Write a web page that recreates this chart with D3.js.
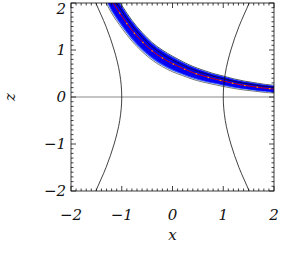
<!DOCTYPE html>
<html>
<head>
<meta charset="utf-8">
<script src="https://cdn.jsdelivr.net/npm/d3@7"></script>
<style>
body { margin: 0; background: #fff; }
</style>
</head>
<body>
<svg id="graph" width="293" height="254"></svg>
<script>
// band (trajectory) centre line
const bandX = [-1.4, -1.3, -1.2, -1.0, -0.8, -0.6, -0.4, -0.2, 0, 0.2, 0.4, 0.6, 0.8, 1.0, 1.2, 1.4, 1.6, 1.8, 2.0]
const bandZ = [2.5, 2.28, 2.06, 1.72, 1.42, 1.18, 0.98, 0.83, 0.71, 0.61, 0.52, 0.45, 0.39, 0.34, 0.29, 0.25, 0.22, 0.19, 0.17]
const bandHalf = [0.26, 0.25, 0.24, 0.22, 0.2, 0.185, 0.17, 0.16, 0.15, 0.135, 0.125, 0.115, 0.105, 0.1, 0.093, 0.087, 0.082, 0.078, 0.075]

// thin boundary curves (right branch, left is mirrored)
const hypZ = [-2.2, -2, -1.5, -1, -0.5, 0, 0.5, 1, 1.5, 2, 2.2]
const hypX = [1.58, 1.51, 1.31, 1.15, 1.04, 1.0, 1.04, 1.15, 1.31, 1.51, 1.58]

const xTicks = [-2, -1, 0, 1, 2]
const zTicks = [-2, -1, 0, 1, 2]

const svg = d3.select('#graph')
const m = {l: 71, r: 274, t: 3, b: 191}
const font = '"DejaVu Serif", "Liberation Serif", serif'

const x = d3.scaleLinear().domain([-2, 2]).range([m.l, m.r])
const z = d3.scaleLinear().domain([-2, 2]).range([m.b, m.t])

svg.append('defs').append('clipPath').attr('id', 'clip')
    .append('rect').attr('x', m.l).attr('y', m.t).attr('width', m.r - m.l).attr('height', m.b - m.t)

const plot = svg.append('g').attr('clip-path', 'url(#clip)')

const band = bandX.map((d, i) => ({x: d, z: bandZ[i], h: bandHalf[i]}))

const area = (k1, k2) => d3.area()
    .x(d => x(d.x))
    .y0(d => z(d.z - d.h * k1))
    .y1(d => z(d.z + d.h * k2))
    .curve(d3.curveCatmullRom)

const line = (k) => d3.line()
    .x(d => x(d.x))
    .y(d => z(d.z + d.h * k))
    .curve(d3.curveCatmullRom)

// zero line
plot.append('line')
    .attr('x1', m.l).attr('x2', m.r)
    .attr('y1', z(0)).attr('y2', z(0))
    .attr('stroke', '#b0b0b0').attr('stroke-width', 1.5)

// band layers
plot.append('path').datum(band).attr('d', line(-1.15)).attr('fill', 'none').attr('stroke', '#555').attr('stroke-width', 0.8)
plot.append('path').datum(band).attr('d', line(1.05)).attr('fill', 'none').attr('stroke', '#222').attr('stroke-width', 0.8)
plot.append('path').datum(band).attr('d', area(1, 1)).attr('fill', '#3358ff')
plot.append('path').datum(band).attr('d', area(0.8, 0.85)).attr('fill', '#0500f5')
plot.append('path').datum(band).attr('d', line(0.5)).attr('fill', 'none').attr('stroke', '#0a0a50').attr('stroke-width', 1)
plot.append('path').datum(band).attr('d', line(0)).attr('fill', 'none').attr('stroke', '#c80010').attr('stroke-width', 1)
plot.append('path').datum(band).attr('d', line(0)).attr('fill', 'none').attr('stroke', '#ff9a00')
    .attr('stroke-width', 1.2).attr('stroke-dasharray', '1.5,11')

// boundary curves
const hyp = d3.line().x(d => x(d[0])).y(d => z(d[1])).curve(d3.curveCatmullRom)
const right = hypX.map((d, i) => [d, hypZ[i]])
const left = hypX.map((d, i) => [-d, hypZ[i]])
;[left, right].forEach(p => {
    plot.append('path').datum(p).attr('d', hyp)
        .attr('fill', 'none').attr('stroke', '#111').attr('stroke-width', 0.8)
})

// frame and ticks on all four sides
const ax = svg.append('g').attr('stroke', '#111').attr('stroke-width', 0.8)
ax.append('rect').attr('x', m.l).attr('y', m.t).attr('width', m.r - m.l).attr('height', m.b - m.t).attr('fill', 'none')

const minor = d3.range(-20, 21).map(d => d / 10)
minor.forEach(v => {
    const major = Math.abs(v - Math.round(v)) < 1e-6
    const len = major ? 5 : 2.5
    ax.append('line').attr('x1', x(v)).attr('x2', x(v)).attr('y1', m.b).attr('y2', m.b - len)
    ax.append('line').attr('x1', x(v)).attr('x2', x(v)).attr('y1', m.t).attr('y2', m.t + len)
    ax.append('line').attr('y1', z(v)).attr('y2', z(v)).attr('x1', m.l).attr('x2', m.l + len)
    ax.append('line').attr('y1', z(v)).attr('y2', z(v)).attr('x1', m.r).attr('x2', m.r - len)
})

const fmt = d => d < 0 ? '\u2212' + Math.abs(d) : '' + d

const label = (sel) => sel
    .style('font-family', font)
    .style('font-style', 'italic')
    .style('font-size', '15px')
    .style('fill', '#111')

svg.selectAll('.xlab').data(xTicks).enter().append('text')
    .attr('class', 'xlab')
    .attr('x', d => x(d)).attr('y', 220)
    .attr('text-anchor', 'middle')
    .call(label)
    .text(fmt)

svg.selectAll('.zlab').data(zTicks).enter().append('text')
    .attr('class', 'zlab')
    .attr('x', 66).attr('y', d => Math.max(z(d) + 5, 14))
    .attr('text-anchor', 'end')
    .call(label)
    .text(fmt)

svg.append('text').attr('x', x(0)).attr('y', 240).attr('text-anchor', 'middle')
    .call(label).text('x')

svg.append('text').attr('transform', `translate(15,${z(0)}) rotate(-90)`).attr('text-anchor', 'middle')
    .call(label).text('z')
</script>
</body>
</html>
